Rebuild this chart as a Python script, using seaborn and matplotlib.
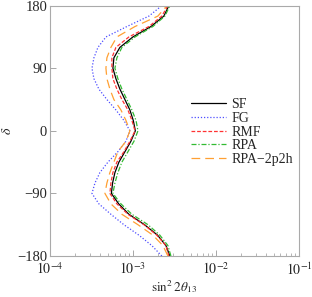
import numpy as np
import pandas as pd
import seaborn as sns
import matplotlib
matplotlib.use('Agg')
import matplotlib.pyplot as plt

# delta_CP grid (degrees) and sin^2 2theta13
delta = [-180, -165, -150, -135, -120, -105, -90, -75, -60, -45, -30, -15, 0,
         15, 30, 45, 60, 75, 90, 105, 120, 135, 150, 165, 180]

sf = [2.79e-3, 2.50e-3, 1.98e-3, 1.38e-3, 8.95e-4, 6.74e-4, 5.50e-4, 5.69e-4,
      6.07e-4, 6.78e-4, 8.01e-4, 9.46e-4, 1.07e-3, 1.01e-3, 9.20e-4, 8.01e-4,
      6.97e-4, 6.24e-4, 5.74e-4, 5.90e-4, 6.97e-4, 1.00e-3, 1.65e-3, 2.36e-3, 2.71e-3]
fg = [2.23e-3, 1.69e-3, 1.18e-3, 7.79e-4, 5.43e-4, 3.89e-4, 3.21e-4, 3.49e-4,
      4.00e-4, 5.00e-4, 6.59e-4, 8.24e-4, 9.20e-4, 7.79e-4, 6.24e-4, 4.86e-4,
      3.89e-4, 3.39e-4, 3.21e-4, 3.39e-4, 3.79e-4, 4.73e-4, 8.47e-4, 1.56e-3, 2.23e-3]
rmf = [2.71e-3, 2.50e-3, 1.94e-3, 1.36e-3, 8.71e-4, 6.41e-4, 5.28e-4, 5.43e-4,
       5.74e-4, 6.41e-4, 7.79e-4, 9.20e-4, 1.06e-3, 9.72e-4, 8.71e-4, 7.37e-4,
       6.41e-4, 5.74e-4, 5.58e-4, 5.58e-4, 6.24e-4, 8.95e-4, 1.56e-3, 2.23e-3, 2.64e-3]
rpa = [2.87e-3, 2.64e-3, 2.11e-3, 1.52e-3, 9.72e-4, 7.17e-4, 5.74e-4, 6.07e-4,
       6.59e-4, 7.37e-4, 8.71e-4, 1.03e-3, 1.15e-3, 1.09e-3, 9.72e-4, 8.47e-4,
       7.37e-4, 6.59e-4, 6.07e-4, 6.41e-4, 7.37e-4, 1.06e-3, 1.74e-3, 2.43e-3, 2.79e-3]
rpa2p2h = [2.64e-3, 2.30e-3, 1.74e-3, 1.15e-3, 7.37e-4, 5.43e-4, 4.60e-4, 4.86e-4,
           5.28e-4, 5.90e-4, 6.59e-4, 8.24e-4, 9.20e-4, 8.24e-4, 7.17e-4, 5.90e-4,
           5.28e-4, 4.86e-4, 4.73e-4, 4.86e-4, 5.43e-4, 6.41e-4, 1.06e-3, 2.00e-3, 2.57e-3]

models = ['SF', 'FG', 'RMF', 'RPA', 'RPA\u22122p2h']
series = [sf, fg, rmf, rpa, rpa2p2h]
colors = ['black', '#4d4dff', '#ff3333', '#33bb33', '#ffa033']
styles = ['-', (0, (1, 1.5)), (0, (3, 1.5)), (0, (4, 1.5, 1, 1.5)), (0, (7, 4))]

sns.set_style('ticks')
plt.rcParams['font.family'] = ['Liberation Serif', 'DejaVu Serif']
plt.rcParams['mathtext.fontset'] = 'stix'

fig = plt.figure(figsize=(3.12, 2.97), dpi=100)
ax = fig.add_axes([0.160, 0.138, 0.798, 0.843])

for name, vals, c, ls in zip(models, series, colors, styles):
    df = pd.DataFrame({'s': vals, 'd': delta})
    sns.lineplot(data=df, x='s', y='d', sort=False, estimator=None,
                 color=c, linestyle=ls, linewidth=0.9, label=name, ax=ax)

ax.set_xscale('log')
ax.set_xlim(1e-4, 1e-1)
ax.set_ylim(-180, 180)
ax.set_yticks([-180, -90, 0, 90, 180])
ax.set_yticklabels(['\u2212180', '\u221290', '0', '90', '180'])
ax.set_xticks([1e-4, 1e-3, 1e-2, 1e-1])
ax.set_xticklabels([r'$10^{-4}$', r'$10^{-3}$', r'$10^{-2}$', r'$10^{-1}$'])
ax.tick_params(direction='in', labelsize=10.5, length=4, width=0.6, color='#999999', pad=2)
ax.tick_params(axis='x', labelsize=10, pad=4)
ax.tick_params(which='minor', direction='in', length=2.5, width=0.5, color='#999999')
for s in ax.spines.values():
    s.set_color('#aaaaaa')
    s.set_linewidth(0.8)

ax.set_xlabel(r'$\mathrm{sin}^2\, 2\theta_{13}$', fontsize=9.5, labelpad=0)
ax.set_ylabel(r'$\delta$', fontsize=10, labelpad=2)

ax.legend(loc='center left', bbox_to_anchor=(0.545, 0.495), frameon=False,
          fontsize=10, handlelength=2.5, handletextpad=0.4, labelspacing=0.05,
          borderaxespad=0)

fig.savefig('out.png', dpi=100)
